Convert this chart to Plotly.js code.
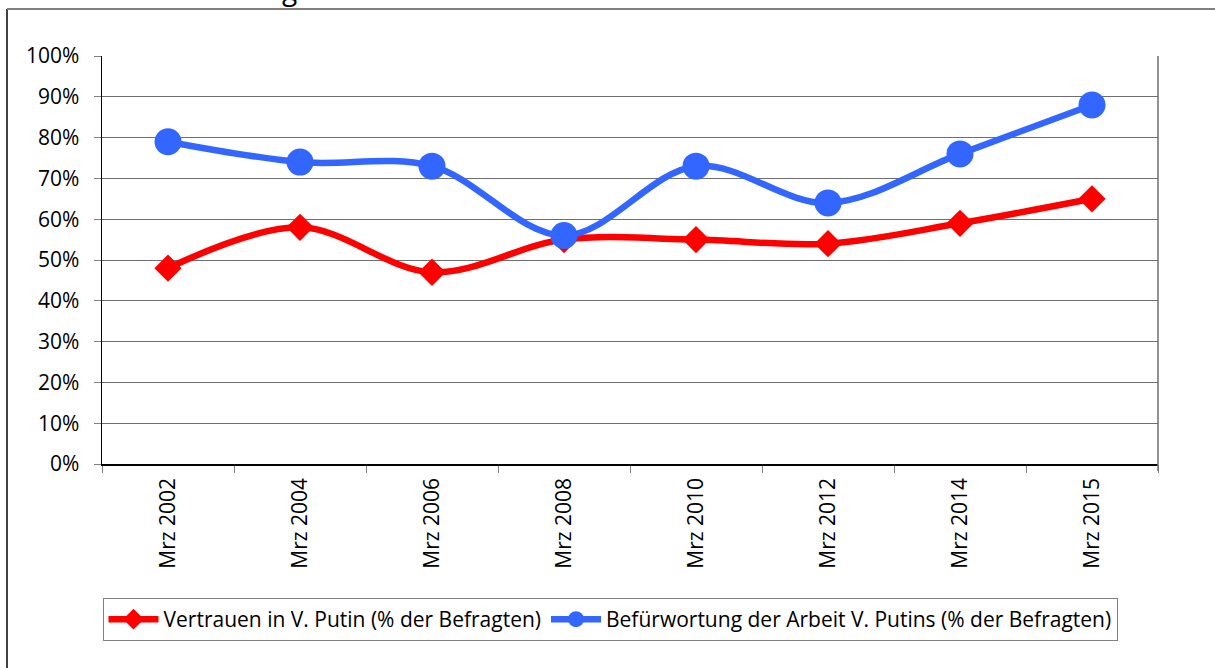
<!DOCTYPE html>
<html>
<head>
<meta charset="utf-8">
<script src="https://cdn.plot.ly/plotly-3.0.1.min.js"></script>
<style>html,body{margin:0;padding:0;background:#fff;}#chart{width:1215px;height:668px;}</style>
</head>
<body>
<div id="chart"></div>
<script>
const categories = ["Mrz 2002","Mrz 2004","Mrz 2006","Mrz 2008","Mrz 2010","Mrz 2012","Mrz 2014","Mrz 2015"];
const vertrauen = [0.48,0.58,0.47,0.55,0.55,0.54,0.59,0.65];
const befuerwortung = [0.79,0.74,0.73,0.56,0.73,0.64,0.76,0.88];
const seriesNames = ["Vertrauen in V. Putin (% der Befragten)","Befürwortung der Arbeit V. Putins (% der Befragten)"];
const yTicks = [0,0.1,0.2,0.3,0.4,0.5,0.6,0.7,0.8,0.9,1.0];

const W = 1215, H = 668;
const L = 102, R = 1158, T = 56, B = 464;
const px2x = p => (p - L) / (R - L);
const px2y = p => (B - p) / (B - T);

const font = "Open Sans, Noto Sans, sans-serif";
const fs = 21;

const traces = [
  {
    x: categories, y: vertrauen, name: seriesNames[0], type: "scatter", mode: "lines+markers",
    line: {color: "#FF0000", width: 6.5, shape: "spline", smoothing: 1},
    marker: {symbol: "diamond", size: 21, color: "#FF0000"}
  },
  {
    x: categories, y: befuerwortung, name: seriesNames[1], type: "scatter", mode: "lines+markers",
    line: {color: "#3366FF", width: 6.5, shape: "spline", smoothing: 1},
    marker: {symbol: "circle", size: 27, color: "#3366FF"}
  }
];

const layout = {
  width: W, height: H,
  margin: {l: L, r: W - R, t: T, b: H - B},
  paper_bgcolor: "#fff", plot_bgcolor: "#fff",
  font: {family: font, size: fs, color: "#000"},
  showlegend: true,
  xaxis: {
    type: "category", range: [-0.5, 7.5], tickson: "boundaries",
    ticks: "outside", ticklen: 7, tickcolor: "#808080", tickwidth: 1,
    showline: true, linecolor: "#000", linewidth: 1.5,
    showgrid: false, tickangle: -90, tickfont: {family: font, size: fs},
    ticklabelstandoff: 4,
    fixedrange: true
  },
  yaxis: {
    range: [0, 1], tickvals: yTicks, tickformat: ".0%",
    ticks: "outside", ticklen: 7, tickcolor: "#808080", tickwidth: 1,
    showline: true, linecolor: "#000", linewidth: 1.5,
    showgrid: true, gridcolor: "#6e6e6e", gridwidth: 1, zeroline: false,
    tickfont: {family: font, size: fs}, ticklabelstandoff: 10, fixedrange: true
  },
  legend: {
    orientation: "h", x: px2x(610), xanchor: "center", y: px2y(598), yanchor: "top",
    bordercolor: "#808080", borderwidth: 1, bgcolor: "#fff",
    font: {family: font, size: fs}, itemwidth: 50, tracegroupgap: 0
  },
  shapes: [
    {type: "line", xref: "paper", yref: "paper", x0: px2x(1158), x1: px2x(1158), y0: px2y(471), y1: 1, line: {color: "#6e6e6e", width: 1.5}},
    {type: "line", xref: "paper", yref: "paper", x0: px2x(7), x1: px2x(7), y0: px2y(9), y1: px2y(680), line: {color: "#000", width: 1.5}},
    {type: "line", xref: "paper", yref: "paper", x0: px2x(7), x1: px2x(1230), y0: px2y(9), y1: px2y(9), line: {color: "#808080", width: 2}}
  ],
  annotations: [
    {xref: "paper", yref: "paper", x: px2x(289), y: px2y(10), xanchor: "center", yanchor: "bottom", text: "g", showarrow: false, font: {family: font, size: 28, color: "#000"}}
  ]
};

Plotly.newPlot("chart", traces, layout, {displayModeBar: false, staticPlot: true});
</script>
</body>
</html>
